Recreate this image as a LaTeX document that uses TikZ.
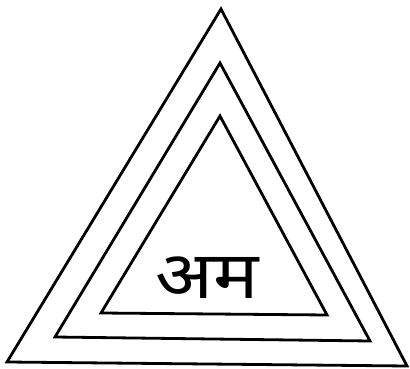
\documentclass[tikz,border=0pt]{standalone}
\usepackage{fontspec}
\newfontfamily\devfont[Script=Devanagari]{Noto Sans}
\begin{document}
\begin{tikzpicture}[x=1pt,y=-1pt,tri/.style={draw=black,line width=2.8pt,line join=miter}]
\useasboundingbox (0,0) rectangle (410,369);
\coordinate (oA) at (221,9);
\coordinate (oL) at (7,362);
\coordinate (oR) at (407,366);
\coordinate (mA) at (220,63);
\coordinate (mL) at (55,337);
\coordinate (mR) at (370,341);
\coordinate (iA) at (220,116);
\coordinate (iL) at (101,313);
\coordinate (iR) at (327,315);
\draw[tri] (oA) -- (oL) -- (oR) -- cycle;
\draw[tri] (mA) -- (mL) -- (mR) -- cycle;
\draw[tri] (iA) -- (iL) -- (iR) -- cycle;
\node[font=\devfont\bfseries\fontsize{66}{66}\selectfont, inner sep=0pt, xscale=1.15] (t) at (207,278) {अम};
\end{tikzpicture}
\end{document}
